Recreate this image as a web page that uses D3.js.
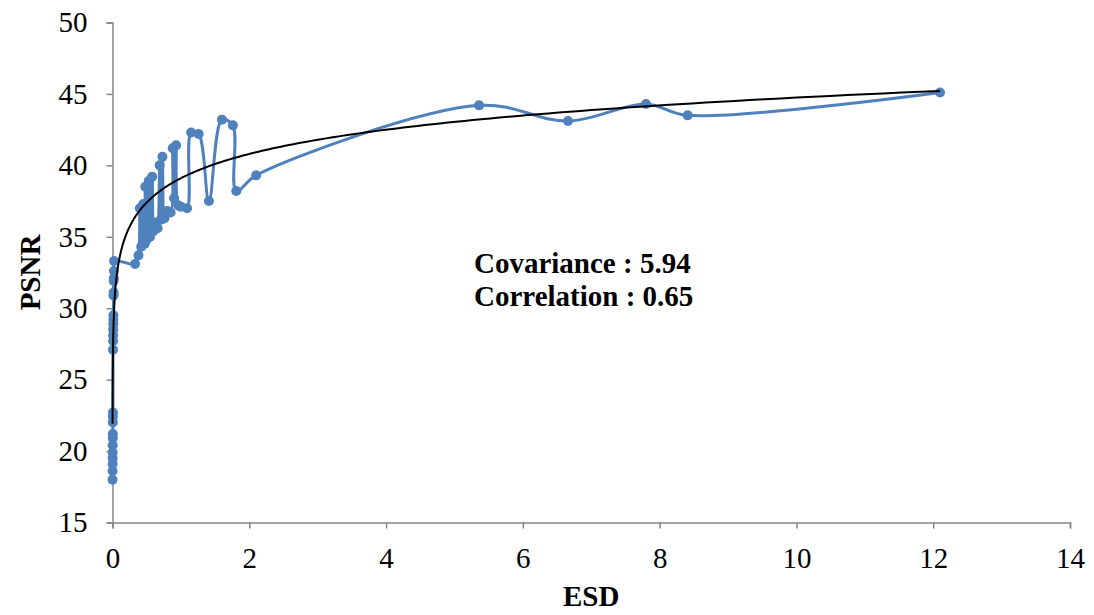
<!DOCTYPE html>
<html>
<head>
<meta charset="utf-8">
<script src="https://cdn.jsdelivr.net/npm/d3@7"></script>
<style>
  html, body { margin: 0; padding: 0; background: #fff; }
  svg { display: block; }
  text { font-family: "Liberation Serif", "Times New Roman", serif; fill: #000; }
</style>
</head>
<body>
<svg id="chart" width="1094" height="615"></svg>
<script>
// ESD values (x) and matching PSNR values (y), in series order
const esd = [
  0.0009, 0.0012, 0.0016, 0.0020, 0.0025, 0.0030, 0.0036, 0.0042, 0.0050, 0.0058, 0.0066,
  0.0075, 0.0084, 0.0094, 0.0104, 0.0115, 0.0126, 0.0138, 0.0150, 0.0163, 0.0177, 0.0192, 0.0210, 0.0230,
  0.33, 0.38, 0.40, 0.42, 0.45, 0.47, 0.48, 0.50, 0.53, 0.55, 0.58, 0.60, 0.63, 0.66,
  0.69, 0.71, 0.73, 0.76, 0.80, 0.85, 0.88, 0.90, 0.93, 0.96, 1.00, 1.09,
  1.15, 1.26, 1.41, 1.60, 1.76, 1.81, 2.10,
  5.36, 6.66, 7.80, 8.41, 12.10
];
const psnr = [
  18.0, 18.6, 19.1, 19.5, 19.9, 20.4, 20.9, 21.2, 22.0, 22.4, 22.7,
  27.1, 27.7, 28.1, 28.5, 28.9, 29.2, 29.5, 30.9, 31.1, 31.9, 32.1, 32.6, 33.3,
  33.1, 33.7, 37.0, 34.3, 37.3, 34.5, 38.5, 34.8, 38.9, 35.0, 39.2, 35.4, 36.0, 35.6,
  40.0, 36.2, 40.6, 36.3, 36.8, 36.7, 41.2, 37.7, 41.4, 37.2, 37.1, 37.0,
  42.3, 42.2, 37.5, 43.2, 42.8, 38.2, 39.3,
  44.2, 43.1, 44.3, 43.5, 45.1
];
const xTicks = [0, 2, 4, 6, 8, 10, 12, 14];
const yTicks = [15, 20, 25, 30, 35, 40, 45, 50];
// logarithmic trend: PSNR = trendSlope * ln(ESD) + trendIntercept
const trendSlope = 2.45;
const trendIntercept = 39.1;
const statLines = ["Covariance : 5.94", "Correlation : 0.65"];

const svg = d3.select("#chart");
const x = d3.scaleLinear().domain([0, 14]).range([112.5, 1070]);
const y = d3.scaleLinear().domain([15, 50]).range([522.5, 22.5]);
const axisColor = "#868686";
const fontSize = 29;

// axes
const gx = svg.append("g").attr("transform", `translate(0,${y(15)})`)
  .call(d3.axisBottom(x).tickValues(xTicks).tickSize(6).tickFormat(d3.format("d")));
const gy = svg.append("g").attr("transform", `translate(${x(0)},0)`)
  .call(d3.axisLeft(y).tickValues(yTicks).tickSize(6).tickPadding(19).tickFormat(d3.format("d")));
[gx, gy].forEach(g => {
  g.select(".domain").attr("stroke", axisColor).attr("stroke-width", 1.5);
  g.selectAll(".tick line").attr("stroke", axisColor).attr("stroke-width", 1.5);
  g.selectAll(".tick text").attr("font-size", fontSize).attr("font-family", "Liberation Serif, serif").attr("fill", "#000");
});
gx.selectAll(".tick text").attr("y", 45).attr("dy", 0);

// series
const pts = esd.map((d, i) => [d, psnr[i]]);
const blue = "#4F81BD";
svg.append("path")
  .datum(pts)
  .attr("fill", "none")
  .attr("stroke", blue)
  .attr("stroke-width", 3)
  .attr("stroke-linejoin", "round")
  .attr("d", d3.line().x(d => x(d[0])).y(d => y(d[1])).curve(d3.curveCatmullRom.alpha(0.5)));
svg.append("g").selectAll("circle")
  .data(pts)
  .join("circle")
  .attr("cx", d => x(d[0]))
  .attr("cy", d => y(d[1]))
  .attr("r", 5)
  .attr("fill", blue);

// trend line across the data range
const xMin = d3.min(esd), xMax = d3.max(esd);
const trendX = d3.range(0, 401).map(i => xMin * Math.pow(xMax / xMin, i / 400));
svg.append("path")
  .datum(trendX)
  .attr("fill", "none")
  .attr("stroke", "#000")
  .attr("stroke-width", 2)
  .attr("d", d3.line().x(d => x(d)).y(d => y(trendSlope * Math.log(d) + trendIntercept)));

// statistics annotation
svg.append("g").selectAll("text")
  .data(statLines)
  .join("text")
  .attr("x", 474)
  .attr("y", (d, i) => 273 + i * 33)
  .attr("font-size", fontSize)
  .attr("font-weight", "bold")
  .text(d => d);

// axis titles
svg.append("text")
  .attr("x", x(7))
  .attr("y", 606)
  .attr("text-anchor", "middle")
  .attr("font-size", fontSize)
  .attr("font-weight", "bold")
  .text("ESD");
svg.append("text")
  .attr("transform", `translate(40,${y(32.5)}) rotate(-90)`)
  .attr("text-anchor", "middle")
  .attr("font-size", fontSize)
  .attr("font-weight", "bold")
  .text("PSNR");
</script>
</body>
</html>
